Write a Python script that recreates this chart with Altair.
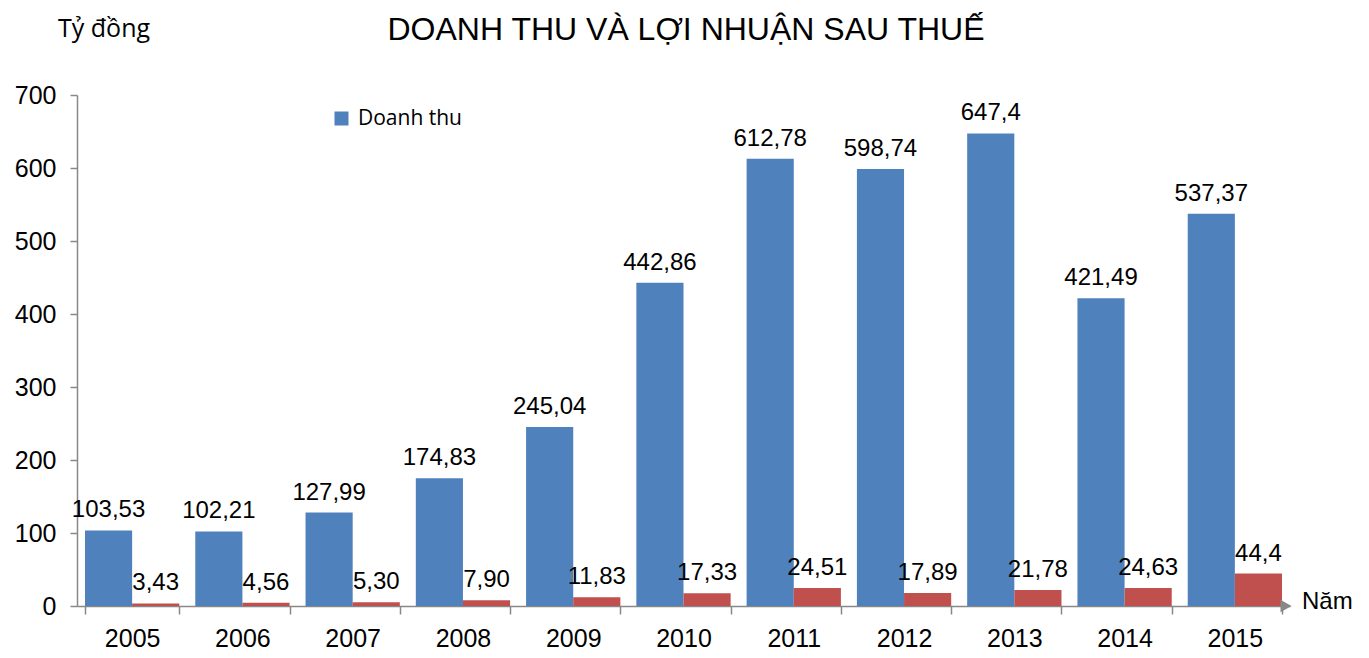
import altair as alt
import pandas as pd

years = ["2005", "2006", "2007", "2008", "2009", "2010", "2011", "2012", "2013", "2014", "2015"]
revenue = [103.53, 102.21, 127.99, 174.83, 245.04, 442.86, 612.78, 598.74, 647.4, 421.49, 537.37]
revenue_labels = ["103,53", "102,21", "127,99", "174,83", "245,04", "442,86", "612,78", "598,74", "647,4", "421,49", "537,37"]
profit = [3.43, 4.56, 5.30, 7.90, 11.83, 17.33, 24.51, 17.89, 21.78, 24.63, 44.4]
profit_labels = ["3,43", "4,56", "5,30", "7,90", "11,83", "17,33", "24,51", "17,89", "21,78", "24,63", "44,4"]
series = ["Doanh thu", "Lợi nhuận sau thuế"]
colors = ["#4F81BD", "#C0504D"]
y_ticks = [0, 100, 200, 300, 400, 500, 600, 700]
title_text = "DOANH THU VÀ LỢI NHUẬN SAU THUẾ"
unit_text = "Tỷ  đồng"
xname_text = "Năm"

rows = []
for i, y in enumerate(years):
    rows.append({"year": y, "series": series[0], "value": revenue[i], "label": revenue_labels[i]})
    rows.append({"year": y, "series": series[1], "value": profit[i], "label": profit_labels[i]})
df = pd.DataFrame(rows)

W, H = 1213, 511
AX = "#888888"

x_enc = alt.X("year:N", sort=years, title=None,
              scale=alt.Scale(paddingInner=0.145, paddingOuter=0.0725),
              axis=alt.Axis(labelAngle=0, labelFont="Liberation Sans", labelFontSize=25,
                            labelColor="#000000", labelPadding=12, tickBand="extent",
                            tickSize=8, tickColor=AX, tickWidth=1.5,
                            domainColor=AX, domainWidth=1.5, grid=False))
y_enc = alt.Y("value:Q", title=None,
              scale=alt.Scale(domain=[0, 700], nice=False),
              axis=alt.Axis(values=y_ticks, labelFont="Liberation Sans", labelFontSize=25,
                            labelColor="#000000", labelPadding=14, tickSize=7,
                            tickColor=AX, tickWidth=1.5, domainColor=AX, domainWidth=1.5,
                            grid=False))
color_enc = alt.Color("series:N", scale=alt.Scale(domain=series, range=colors),
                      legend=alt.Legend(title=None, values=[series[0]], orient="none",
                                        legendX=254, legendY=13, symbolType="square",
                                        symbolSize=196, symbolStrokeWidth=0,
                                        labelFont="Open Sans", labelFontSize=21,
                                        labelColor="#000000", labelOffset=6, padding=0))
xoff = alt.XOffset("series:N", sort=series)

base = alt.Chart(df)
bars = base.mark_bar().encode(x=x_enc, y=y_enc, color=color_enc, xOffset=xoff)
labels = base.mark_text(baseline="alphabetic", dy=-13, font="Liberation Sans",
                        fontSize=24, color="#000000").encode(
    x=alt.X("year:N", sort=years), y="value:Q", xOffset=xoff, text="label:N")

unit = alt.Chart(pd.DataFrame({"t": [unit_text]})).mark_text(
    align="left", baseline="middle", font="Open Sans", fontSize=25, color="#000000").encode(
    x=alt.value(-19), y=alt.value(-66), text="t:N")

title = alt.Chart(pd.DataFrame({"t": [title_text]})).mark_text(
    align="center", baseline="alphabetic", font="Liberation Sans", fontSize=32,
    color="#000000").encode(x=alt.value(609), y=alt.value(-55), text="t:N")

xname_df = pd.DataFrame({"t": [xname_text]})
xname = alt.Chart(xname_df).mark_text(align="left", baseline="middle", font="Liberation Sans",
                                      fontSize=24, color="#000000").encode(
    x=alt.value(1225), y=alt.value(507), text="t:N")

arrow = alt.Chart(xname_df).mark_point(shape="triangle-right", filled=True, color=AX,
                                       size=160, opacity=1).encode(
    x=alt.value(W - 4), y=alt.value(H))

chart = alt.layer(bars, labels, unit, title, xname, arrow).properties(
    width=W, height=H,
    autosize=alt.AutoSizeParams(type="none"),
    padding={"left": 69, "top": 87, "right": 1353 - 69 - W, "bottom": 50},
).configure_view(stroke=None)

chart.save("out.html", embed_options={"renderer": "svg", "actions": False})
